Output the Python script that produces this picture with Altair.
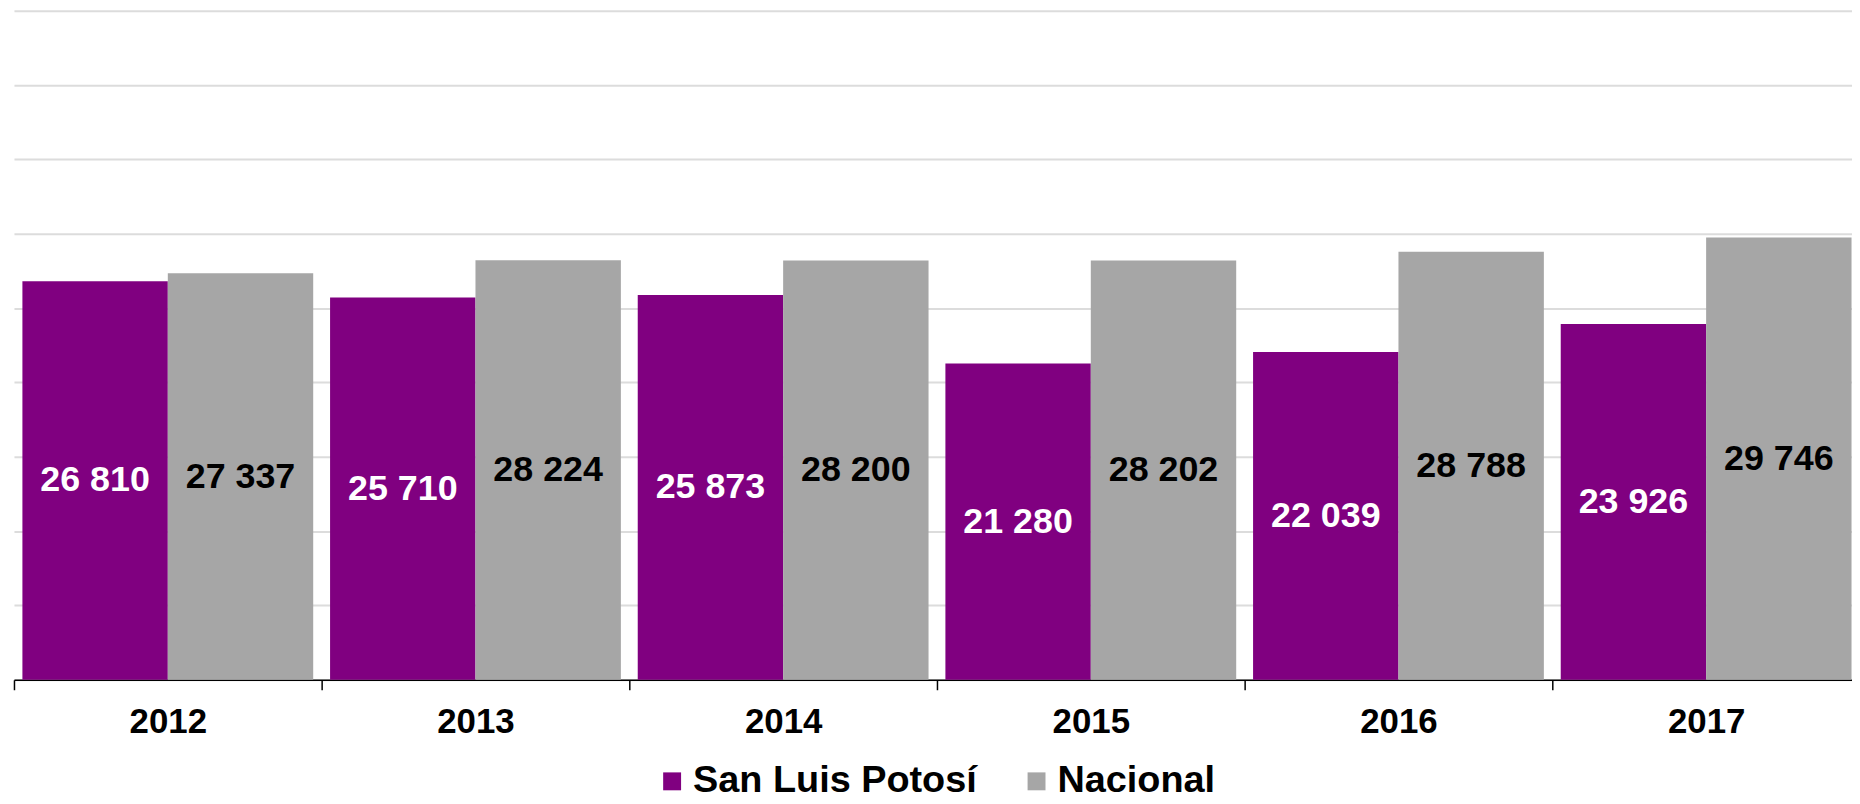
import altair as alt
import pandas as pd

years = ["2012", "2013", "2014", "2015", "2016", "2017"]
san_luis = [26810, 25710, 25873, 21280, 22039, 23926]
nacional = [27337, 28224, 28200, 28202, 28788, 29746]
series = ["San Luis Potosí", "Nacional"]
colors = ["#800080", "#A6A6A6"]
y_ticks = [0, 5000, 10000, 15000, 20000, 25000, 30000, 35000, 40000, 45000]

rows = []
for i, yr in enumerate(years):
    for s, vals in zip(series, [san_luis, nacional]):
        v = vals[i]
        rows.append({"Año": yr, "Serie": s, "Valor": v,
                     "Etiqueta": f"{v:,}".replace(",", " ")})
df = pd.DataFrame(rows)

FONT = "Liberation Sans"

x_enc = alt.X("Año:N", sort=years, title=None,
              scale=alt.Scale(paddingInner=0, paddingOuter=0, range=[0, 1854]),
              axis=alt.Axis(labelAngle=0, tickBand="extent", domainColor="#000000",
                            domainWidth=1.5, tickColor="#000000", tickWidth=1.5,
                            tickSize=10, labelFont=FONT, labelFontWeight="bold",
                            labelFontSize=35, labelColor="#000000", labelPadding=15,
                            grid=False))
xoff = alt.XOffset("Serie:N", sort=series,
                   scale=alt.Scale(paddingInner=0, paddingOuter=0.058))

bars = alt.Chart(df).mark_bar().encode(
    x=x_enc,
    xOffset=xoff,
    y=alt.Y("Valor:Q", title=None,
            scale=alt.Scale(domain=[0, 45000], nice=False),
            axis=alt.Axis(labels=False, ticks=False, domain=False, values=y_ticks,
                          grid=True, gridColor="#DCDCDC", gridWidth=2)),
    color=alt.Color("Serie:N", sort=series,
                    scale=alt.Scale(domain=series, range=colors),
                    legend=alt.Legend(title=None, orient="none", direction="horizontal",
                                      legendX=642, legendY=755,
                                      symbolType="square", symbolSize=324,
                                      symbolStrokeWidth=0, symbolOpacity=1,
                                      labelFont=FONT, labelFontWeight="bold",
                                      labelFontSize=38, labelColor="#000000",
                                      labelOffset=2, columnPadding=40,
                                      labelLimit=500, padding=0)),
)

labels = alt.Chart(df).transform_calculate(
    mid="datum.Valor / 2"
).mark_text(font=FONT, fontWeight="bold", fontSize=36, baseline="middle",
            align="center").encode(
    x=alt.X("Año:N", sort=years),
    xOffset=xoff,
    y=alt.Y("mid:Q"),
    text="Etiqueta:N",
    color=alt.condition(alt.datum.Serie == "San Luis Potosí",
                        alt.value("#FFFFFF"), alt.value("#000000")),
)

chart = alt.layer(bars, labels).properties(
    width=1846, height=672,
    padding={"left": 6, "top": 1, "right": 0, "bottom": 112},
    autosize=alt.AutoSizeParams(type="none"),
).configure_view(stroke=None)

chart.save("out.html", embed_options={"renderer": "svg", "actions": False})
